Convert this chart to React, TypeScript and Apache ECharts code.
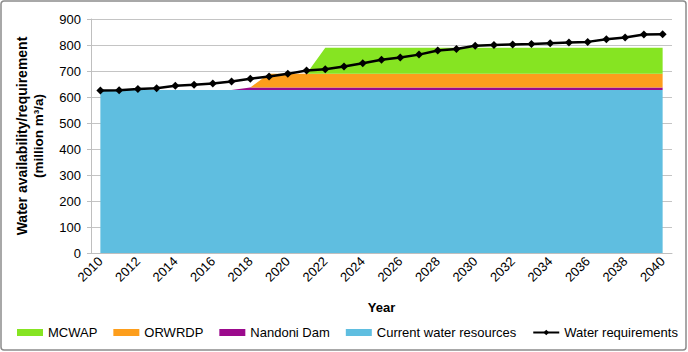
import React, { useEffect, useRef } from "react";
import * as echarts from "echarts";

const years: string[] = [];
for (let y = 2010; y <= 2040; y++) years.push(String(y));

const currentWater = [
  627, 627, 627, 627, 627, 627, 627, 627, 627, 627, 627, 627, 627, 627, 627, 627,
  627, 627, 627, 627, 627, 627, 627, 627, 627, 627, 627, 627, 627, 627, 627,
];
const nandoniDam = [
  0, 0, 0, 0, 0, 0, 0, 0, 10, 10, 10, 10, 10, 10, 10, 10,
  10, 10, 10, 10, 10, 10, 10, 10, 10, 10, 10, 10, 10, 10, 10,
];
const orwrdp = [
  0, 0, 0, 0, 0, 0, 0, 0, 0, 52, 52, 52, 52, 52, 52, 52,
  52, 52, 52, 52, 52, 52, 52, 52, 52, 52, 52, 52, 52, 52, 52,
];
const mcwap = [
  0, 0, 0, 0, 0, 0, 0, 0, 0, 0, 0, 0, 100, 100, 100, 100,
  100, 100, 100, 100, 100, 100, 100, 100, 100, 100, 100, 100, 100, 100, 100,
];
const waterRequirements = [
  625, 626, 631, 634, 643, 647, 652, 660, 670, 679, 689, 702, 707, 717, 730, 743,
  752, 763, 779, 785, 797, 800, 802, 804, 807, 810, 812, 822, 829, 840, 841,
];

const FONT = "'Liberation Sans', Arial, sans-serif";

export default function App() {
  const ref = useRef<HTMLDivElement>(null);
  useEffect(() => {
    if (!ref.current) return;
    const chart = echarts.init(ref.current, undefined, { renderer: "svg" });
    const areaSeries = (name: string, data: number[], color: string) => ({
      name,
      type: "line",
      stack: "supply",
      data,
      symbol: "none",
      showSymbol: false,
      lineStyle: { width: 0, color },
      itemStyle: { color },
      areaStyle: { color, opacity: 1 },
      z: 2,
    });
    chart.setOption({
      animation: false,
      textStyle: { fontFamily: FONT },
      grid: { left: 91, right: 16, top: 19, bottom: 99, containLabel: false },
      graphic: [
        {
          type: "rect",
          shape: { x: 1, y: 1, width: 685, height: 349, r: 3 },
          style: { fill: "none", stroke: "#8c8c8c", lineWidth: 1.5 },
          silent: true,
        },
      ],
      legend: {
        left: 17,
        top: 326,
        width: 670,
        padding: 0,
        itemGap: 16,
        itemWidth: 26,
        itemHeight: 7,
        textStyle: { fontFamily: FONT, fontSize: 13, color: "#000" },
        data: [
          { name: "MCWAP", icon: "rect" },
          { name: "ORWRDP", icon: "rect" },
          { name: "Nandoni Dam", icon: "rect" },
          { name: "Current water resources", icon: "rect" },
          { name: "Water requirements" },
        ],
      },
      xAxis: {
        type: "category",
        data: years,
        boundaryGap: true,
        name: "Year",
        nameLocation: "middle",
        nameGap: 48,
        nameTextStyle: { fontFamily: FONT, fontSize: 13, fontWeight: "bold", color: "#000" },
        axisLine: { lineStyle: { color: "#bfbfbf", width: 1 } },
        axisTick: { show: false },
        axisLabel: {
          interval: 1,
          rotate: 45,
          fontFamily: FONT,
          fontSize: 13,
          color: "#000",
          margin: 6,
        },
      },
      yAxis: {
        type: "value",
        min: 0,
        max: 900,
        interval: 100,
        name: "{a|Water availability/requirement}\n{b|(million m³/a)}",
        nameLocation: "middle",
        nameRotate: 90,
        nameGap: 44,
        nameTextStyle: {
          fontFamily: FONT,
          fontWeight: "bold",
          color: "#000",
          rich: {
            a: { fontFamily: FONT, fontSize: 14, fontWeight: "bold", color: "#000", lineHeight: 17 },
            b: { fontFamily: FONT, fontSize: 13.5, fontWeight: "bold", color: "#000", lineHeight: 17 },
          },
        },
        axisLine: { show: true, lineStyle: { color: "#bfbfbf", width: 1 } },
        axisTick: { show: true, length: 4, lineStyle: { color: "#bfbfbf" } },
        axisLabel: { fontFamily: FONT, fontSize: 13, color: "#000", margin: 10 },
        splitLine: { lineStyle: { color: "#c4c4c4", width: 1 } },
      },
      series: [
        areaSeries("Current water resources", currentWater, "#5fbee0"),
        areaSeries("Nandoni Dam", nandoniDam, "#9b0a8c"),
        areaSeries("ORWRDP", orwrdp, "#fd9e1c"),
        areaSeries("MCWAP", mcwap, "#86e422"),
        {
          name: "Water requirements",
          type: "line",
          data: waterRequirements,
          symbol: "diamond",
          symbolSize: 8,
          showSymbol: true,
          lineStyle: { color: "#000", width: 2.5 },
          itemStyle: { color: "#000" },
          z: 5,
        },
      ],
    });
    return () => chart.dispose();
  }, []);
  return (
    <div
      ref={ref}
      style={{ position: "fixed", left: 0, top: 0, width: 688, height: 352, background: "#fff" }}
    />
  );
}
